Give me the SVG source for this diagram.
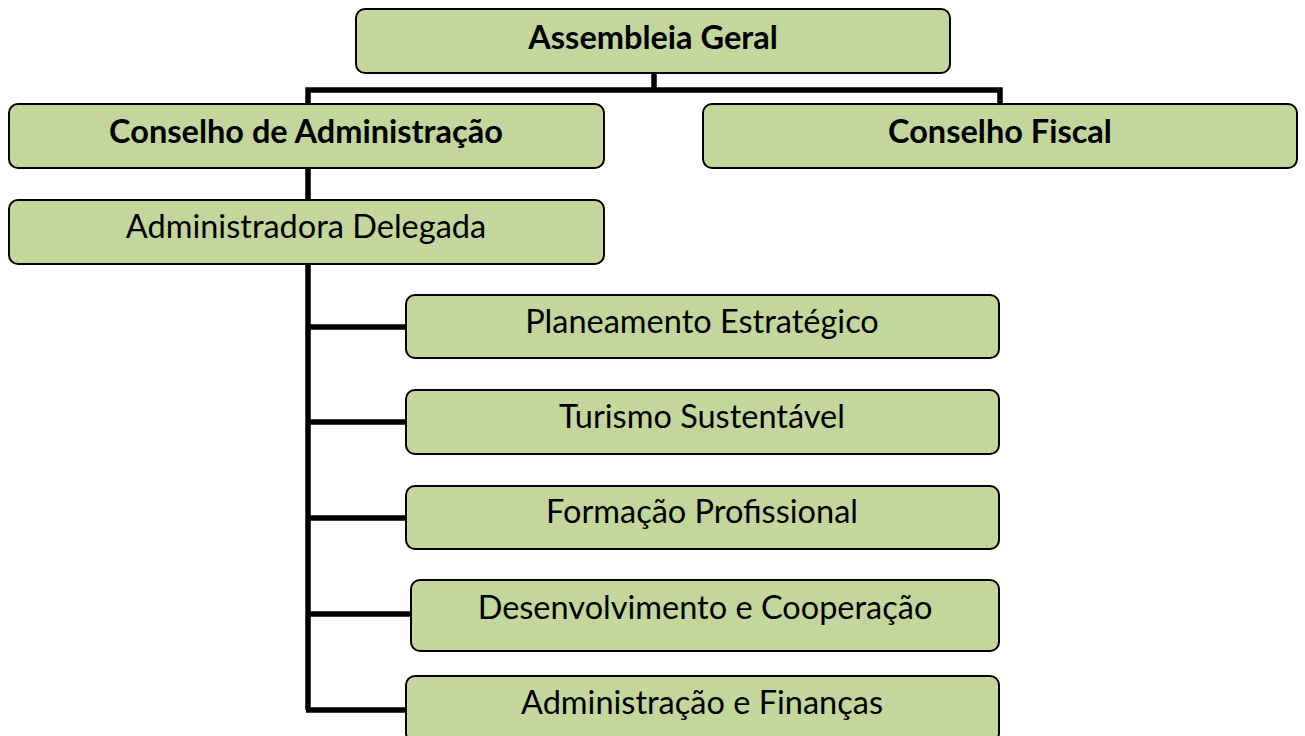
<svg xmlns="http://www.w3.org/2000/svg" width="1305" height="736" viewBox="0 0 1305 736">
<style>
.box{fill:#c3d69b;stroke:#000;stroke-width:2}
.t{font-family:Lato,"Liberation Sans",sans-serif;font-size:32.5px;fill:#000;text-anchor:middle;dominant-baseline:central}
.b{font-weight:bold}
.c{fill:none;stroke:#000;stroke-width:5.5}
</style>
<rect width="1305" height="736" fill="#fff"/>
<g id="connectors">
<path class="c" d="M654,73 V90 M308,106 V90 H1000 V106"/>
<path class="c" d="M308,168 V200"/>
<path class="c" d="M308,264 V710 M306,327 H406 M306,422 H406 M306,518 H406 M306,614 H411 M306,710 H406"/>
</g>
<g id="assembleia"><rect class="box" x="356" y="9" width="594" height="64" rx="9"/><text class="t b" x="653" y="36">Assembleia Geral</text></g>
<g id="conselho-admin"><rect class="box" x="9" y="104" width="595" height="64" rx="9"/><text class="t b" x="306" y="130">Conselho de Administração</text></g>
<g id="conselho-fiscal"><rect class="box" x="703" y="104" width="594" height="64" rx="9"/><text class="t b" x="1000" y="130">Conselho Fiscal</text></g>
<g id="admin-delegada"><rect class="box" x="9" y="200" width="595" height="64" rx="9"/><text class="t" x="306" y="225">Administradora Delegada</text></g>
<g id="planeamento"><rect class="box" x="406" y="295" width="593" height="63" rx="9"/><text class="t" x="702" y="320">Planeamento Estratégico</text></g>
<g id="turismo"><rect class="box" x="406" y="390" width="593" height="64" rx="9"/><text class="t" x="702" y="415">Turismo Sustentável</text></g>
<g id="formacao"><rect class="box" x="406" y="486" width="593" height="63" rx="9"/><text class="t" x="702" y="510">Formação Profissional</text></g>
<g id="desenvolvimento"><rect class="box" x="411" y="580" width="588" height="71" rx="9"/><text class="t" x="705" y="606">Desenvolvimento e Cooperação</text></g>
<g id="admin-financas"><rect class="box" x="406" y="676" width="593" height="66" rx="9"/><text class="t" x="702" y="701">Administração e Finanças</text></g>
</svg>
